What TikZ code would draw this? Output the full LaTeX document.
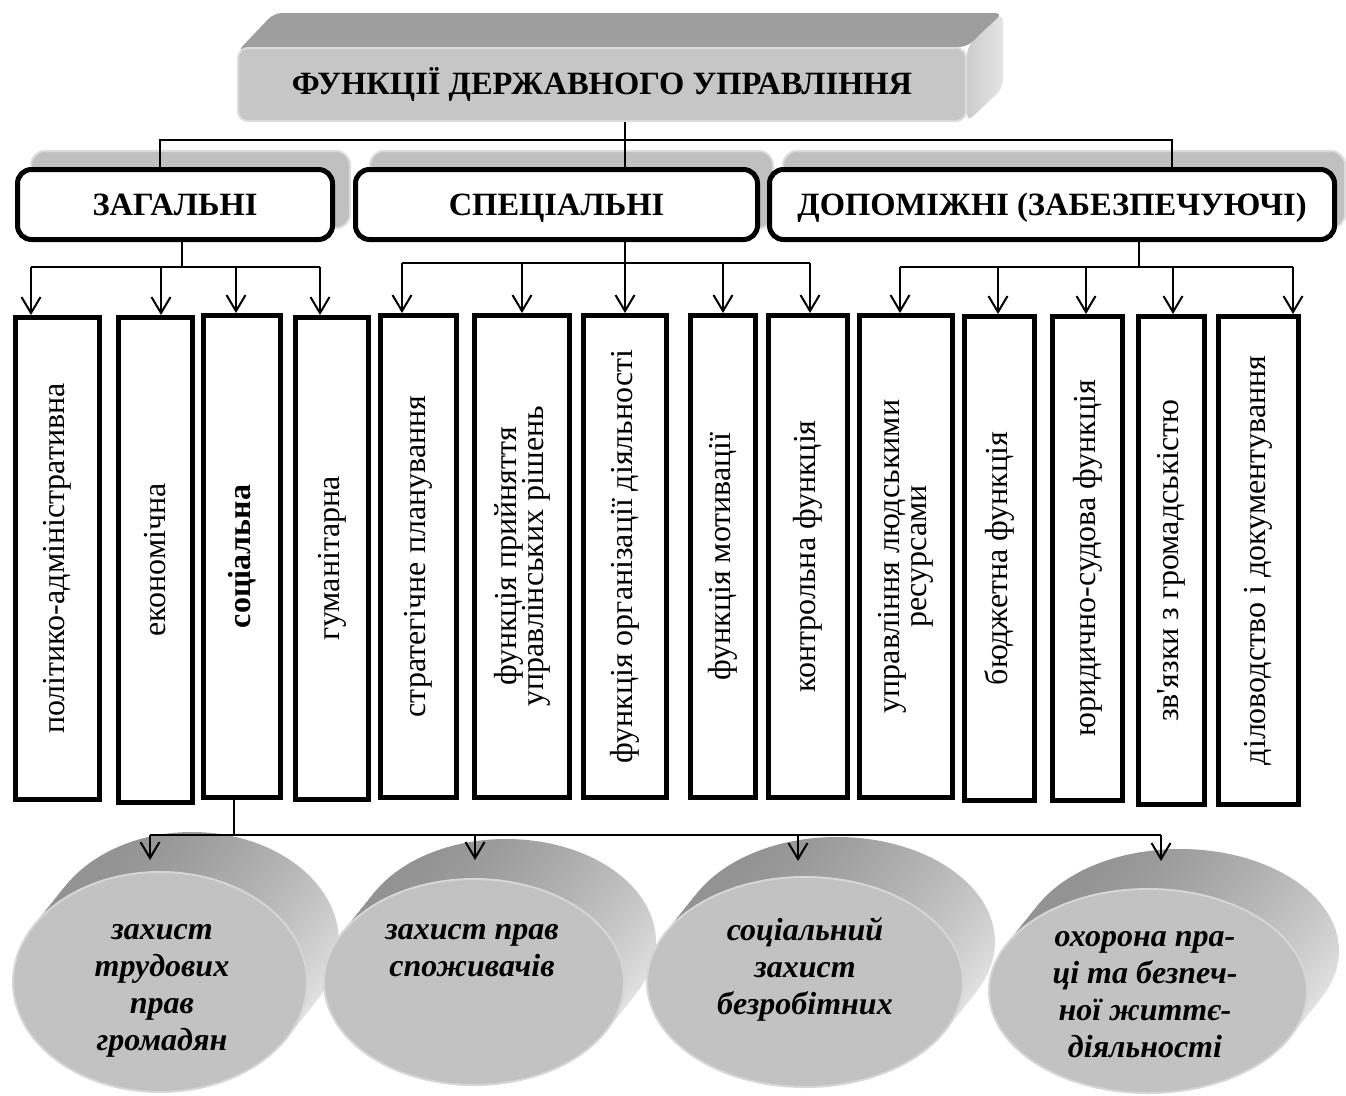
\documentclass[tikz,border=0pt]{standalone}
\usepackage{fontspec}
\setmainfont{Liberation Serif}
\newfontfamily\plainserif{Liberation Serif}
\usetikzlibrary{arrows.meta,calc,shapes.geometric}
\definecolor{tabgray}{HTML}{C0C0C0}
\definecolor{tabedge}{HTML}{DCDCDC}
\definecolor{facegray}{HTML}{C6C6C6}
\definecolor{topgray}{HTML}{9E9E9E}
\definecolor{sidemid}{HTML}{CDCDCD}
\definecolor{sidelight}{HTML}{E4E4E4}
\definecolor{cyldark}{HTML}{929292}
\definecolor{cyllight}{HTML}{E8E8E8}
\definecolor{frontgray}{HTML}{C2C2C2}
\definecolor{frontedge}{HTML}{D6D6D6}
\newcommand\mycylinder[5]{%
  \foreach \k in {20,19,...,1}{%
    \shade[top color=cyldark,bottom color=cyllight,shading angle=30]
      (#2+\k*1.6,#3-\k*2) ellipse [x radius=#4,y radius=#5];}
  \node[ellipse,fill=frontgray,draw=frontedge,line width=2pt,inner sep=0pt,
        minimum width=2*#4,minimum height=2*#5] (#1) at (#2,#3) {};}
\newcommand\twolines[2]{\parbox{430pt}{\centering\lineskiplimit=-100pt\baselineskip=27pt #1\\#2}}
\begin{document}
\begin{tikzpicture}[x=1pt,y=-1pt,
  conn/.style={line width=2pt},
  arr/.style={line width=2pt,-{Straight Barb[length=16pt,width=19pt]}},
  catbox/.style={draw=black,line width=5pt,rounded corners=14pt,fill=white,inner sep=0pt,
    minimum height=70pt,text height=21.5pt,text depth=0pt,font=\fontsize{32.5}{36}\selectfont\bfseries},
  vbox/.style={draw=black,line width=5pt,fill=white,inner sep=0pt,
    font=\fontsize{32}{27}\selectfont},
  tabshape/.style={fill=tabgray,draw=tabedge,line width=2pt,rounded corners=14pt},
  ctext/.style={font=\fontsize{32}{37}\selectfont\bfseries\itshape,align=center,inner sep=0pt}]
\useasboundingbox (0,0) rectangle (1346,1095);
% ---------- title 3D box ----------
\fill[topgray,rounded corners=8pt] (237,52) -- (274,13) -- (1003,13) -- (967,47) -- cycle;
\shade[left color=sidemid,right color=sidelight,rounded corners=8pt]
  (967,47) -- (1003,13) -- (1003,88) -- (967,122) -- cycle;
\node[fill=facegray,draw=tabedge,line width=2pt,rounded corners=10pt,inner sep=0pt,
      minimum width=728pt,minimum height=73pt,font=\fontsize{32.5}{36}\selectfont\bfseries]
      (title) at (602,84.5) {ФУНКЦІЇ ДЕРЖАВНОГО УПРАВЛІННЯ};
% ---------- tabs ----------
\draw[tabshape] (31,151) rectangle (350,228);
\draw[tabshape] (370,151) rectangle (773,228);
\draw[tabshape] (783,151) rectangle (1345,228);
% ---------- cylinders ----------
\mycylinder{c1}{160}{982}{147}{110}
\mycylinder{c2}{474}{982}{150}{103}
\mycylinder{c3}{805}{982}{158}{105}
\mycylinder{c4}{1148}{991}{159}{102}
\coordinate (c1top) at (150,860);
\coordinate (c2top) at (475,860);
\coordinate (c3top) at (798,861);
\coordinate (c4top) at (1161,861);
\node[ctext] (t1) at (162,991) {захист\\трудових\\прав\\громадян};
\node[ctext] (t2) at (472,951) {захист прав\\споживачів};
\node[ctext] (t3) at (805,969) {соціальний\\захист\\безробітних};
\node[ctext] (t4) at (1145,995) {охорона пра-\\ці та безпеч-\\ної життє-\\діяльності};
% ---------- category boxes ----------
\node[catbox,minimum width=315pt] (zag) at (175,204.5) {ЗАГАЛЬНІ};
\node[catbox,minimum width=402pt] (spec) at (556.5,204.5) {СПЕЦІАЛЬНІ};
\node[catbox,minimum width=565pt] (dop) at (1052,204.5) {ДОПОМІЖНІ (ЗАБЕЗПЕЧУЮЧІ)};
% ---------- vertical boxes ----------
\node[vbox,minimum width=84pt,minimum height=482pt] (b1) at (57.5,558.5) {\rotatebox{90}{політико-адміністративна}};
\node[vbox,minimum width=74pt,minimum height=485pt] (b2) at (155.5,560) {\rotatebox{90}{економічна}};
\node[vbox,minimum width=77pt,minimum height=482pt] (b3) at (242,556.5) {\rotatebox{90}{\bfseries соціальна}};
\node[vbox,minimum width=73pt,minimum height=482pt] (b4) at (332,558.5) {\rotatebox{90}{гуманітарна}};
\node[vbox,minimum width=76pt,minimum height=482pt] (b5) at (418.5,556.5) {\rotatebox{90}{стратегічне планування}};
\node[vbox,minimum width=95pt,minimum height=482pt] (b6) at (522,556.5) {\rotatebox{90}{\twolines{функція прийняття}{управлінських рішень}}};
\node[vbox,minimum width=83pt,minimum height=482pt] (b7) at (625,556.5) {\rotatebox{90}{функція організації діяльності}};
\node[vbox,minimum width=65pt,minimum height=482pt] (b8) at (723,556.5) {\rotatebox{90}{функція мотивації}};
\node[vbox,minimum width=79pt,minimum height=482pt] (b9) at (808,556.5) {\rotatebox{90}{контрольна функція}};
\node[vbox,minimum width=93pt,minimum height=482pt] (b10) at (906,556.5) {\rotatebox{90}{\twolines{управління людськими}{ресурсами}}};
\node[vbox,minimum width=70pt,minimum height=484pt] (b11) at (999.5,558.5) {\rotatebox{90}{бюджетна функція}};
\node[vbox,minimum width=70pt,minimum height=484pt] (b12) at (1087.5,558.5) {\rotatebox{90}{юридично-судова функція}};
\node[vbox,minimum width=66pt,minimum height=488pt] (b13) at (1171.5,560.5) {\rotatebox{90}{зв{\plainserif '}язки з громадськістю}};
\node[vbox,minimum width=80pt,minimum height=488pt] (b14) at (1258.5,560.5) {\rotatebox{90}{діловодство і документування}};
% ---------- top connectors ----------
\coordinate (h0) at ($(title.south)+(23,18)$);
\coordinate (zt) at ($(zag.north)+(-15,0)$);
\coordinate (st) at ($(spec.north)+(68.5,0)$);
\coordinate (dt) at ($(dop.north)+(120,0)$);
\draw[conn] ($(title.south)+(23,0)$) -- (h0) -- (st);
\draw[conn] (zt) -- (zt |- h0) -- (dt |- h0) -- (dt);
% ---------- ЗАГАЛЬНІ ----------
\coordinate (z0) at ($(zag.south)+(7,0)$);
\coordinate (zbus) at ($(z0)+(0,25)$);
\foreach \b/\s in {b1/-26.5,b2/5.5,b3/-6,b4/-12}{\coordinate (a\b) at ($(\b.north)+(\s,0)$);}
\draw[conn] (z0) -- (zbus);
\draw[conn] (zbus -| ab1) -- (zbus -| ab4);
\foreach \b in {b1,b2,b3,b4}{\draw[arr] (zbus -| a\b) -- (a\b);}
% ---------- СПЕЦІАЛЬНІ ----------
\coordinate (s0) at ($(spec.south)+(68.5,0)$);
\coordinate (sbus) at ($(s0)+(0,21)$);
\foreach \b/\s in {b5/-16.5,b6/0,b7/0,b8/0,b9/2}{\coordinate (a\b) at ($(\b.north)+(\s,0)$);}
\draw[conn] (sbus -| ab5) -- (sbus -| ab9);
\draw[arr] (s0) -- (ab7);
\foreach \b in {b5,b6,b8,b9}{\draw[arr] (sbus -| a\b) -- (a\b);}
% ---------- ДОПОМІЖНІ ----------
\coordinate (d0) at ($(dop.south)+(87,0)$);
\coordinate (dbus) at ($(d0)+(0,25)$);
\foreach \b/\s in {b10/-6,b11/-1.5,b12/-1.5,b13/1.5,b14/34.5}{\coordinate (a\b) at ($(\b.north)+(\s,0)$);}
\draw[conn] (d0) -- (dbus);
\draw[conn] (dbus -| ab10) -- (dbus -| ab14);
\foreach \b in {b10,b11,b12,b13,b14}{\draw[arr] (dbus -| a\b) -- (a\b);}
% ---------- bottom ----------
\coordinate (so0) at ($(b3.south)+(-8,0)$);
\coordinate (sobus) at ($(so0)+(0,34.5)$);
\draw[conn] (so0) -- (sobus);
\draw[conn] (sobus -| c1top) -- (sobus -| c4top);
\foreach \c in {c1top,c2top,c3top,c4top}{\draw[arr] (sobus -| \c) -- (\c);}
\end{tikzpicture}
\end{document}
